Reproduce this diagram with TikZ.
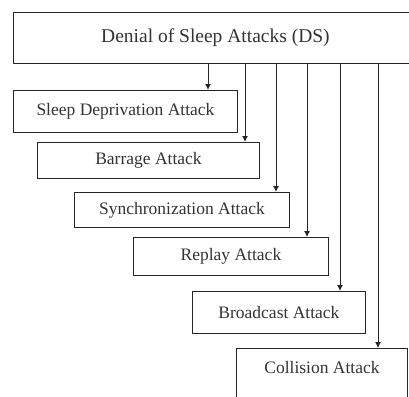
\documentclass[tikz,border=0pt]{standalone}
\usepackage{fontspec}
\setmainfont{Liberation Serif}
\usepackage{xcolor}
\usetikzlibrary{positioning,calc,arrows.meta}

\begin{document}
\begin{tikzpicture}[
    x=1pt, y=-1pt,
    attackbox/.style={
        rectangle,
        draw=black!85,
        line width=0.9pt,
        anchor=north west,
        inner sep=0pt,
        text=black!80,
        font=\fontsize{17.5}{20}\selectfont
    },
    rootbox/.style={
        attackbox,
        font=\fontsize{19.5}{22}\selectfont
    },
    feed/.style={
        draw=black!85,
        line width=0.9pt,
        -{Latex[length=6pt,width=6pt]}
    }
]

\useasboundingbox (0,0) rectangle (409,396);
\clip (0,0) rectangle (409,396);

% ------------------------------------------------------------
% Root
% ------------------------------------------------------------

\node[rootbox, minimum width=404pt, minimum height=51pt] (ds) at (13,12)
    {Denial of Sleep Attacks (DS)};

% ------------------------------------------------------------
% Attacks
% ------------------------------------------------------------

\node[attackbox, minimum width=224pt, minimum height=42pt] (sda) at (13,90)
    {Sleep Deprivation Attack};

\node[attackbox, minimum width=222pt, minimum height=36pt] (barrage) at (37,142)
    {Barrage Attack};

\node[attackbox, minimum width=215pt, minimum height=35pt] (sync) at (74,192)
    {Synchronization Attack};

\node[attackbox, minimum width=195pt, minimum height=38pt] (replay) at (133,237)
    {Replay Attack};

\node[attackbox, minimum width=173pt, minimum height=42pt] (bcast) at (192,291)
    {Broadcast Attack};

\node[attackbox, minimum width=171pt, minimum height=52pt, text depth=14pt]
    (coll) at (236,348) {Collision Attack};

% ------------------------------------------------------------
% Feed lines from the root
% ------------------------------------------------------------

\coordinate (f1) at (208,0);
\coordinate (f2) at (245,0);
\coordinate (f3) at (276,0);
\coordinate (f4) at (307,0);
\coordinate (f5) at (340,0);
\coordinate (f6) at (378,0);

\draw[feed] (ds.south -| f1) -- (sda.north -| f1);
\draw[feed] (ds.south -| f2) -- (barrage.north -| f2);
\draw[feed] (ds.south -| f3) -- (sync.north -| f3);
\draw[feed] (ds.south -| f4) -- (replay.north -| f4);
\draw[feed] (ds.south -| f5) -- (bcast.north -| f5);
\draw[feed] (ds.south -| f6) -- (coll.north -| f6);

\end{tikzpicture}
\end{document}
